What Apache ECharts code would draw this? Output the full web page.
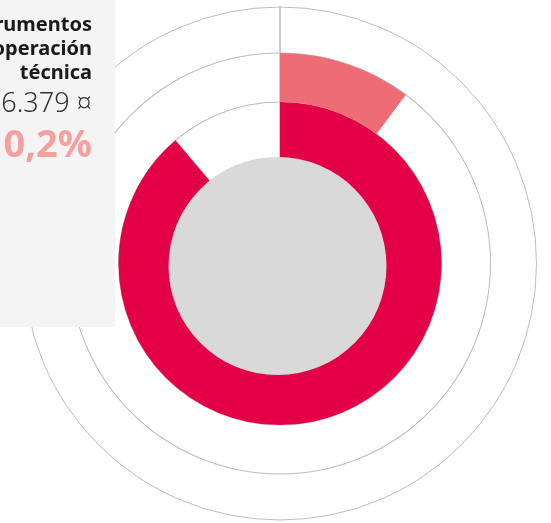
<!DOCTYPE html>
<html>
<head>
<meta charset="utf-8">
<style>
  html, body { margin: 0; padding: 0; background: #ffffff; }
  #chart { width: 551px; height: 523px; }
</style>
<script src="https://cdn.jsdelivr.net/npm/echarts@6/dist/echarts.min.js"></script>
</head>
<body>
<div id="chart"></div>
<script>
// datos
const categoria = ['Instrumentos', 'de cooperación', 'técnica'];
const importe = '6.379 ¤';
const porcentajeTexto = '10,2%';
const valorTotal = 88.8;   // anillo rojo (% de la vuelta)
const valorCategoria = 10.2; // anillo rosa

const centro = [280, 263.5];
const centroGris = [277.5, 266];
const rojo = '#e40046';
const rosa = '#ee6d74';
const gris = '#bdbdbd';

function initChart() {
    const myChart = echarts.init(document.getElementById('chart'));

    // anillo fino de guía
    function aro(r) {
        return {
            type: 'pie',
            silent: true,
            z: 1,
            center: centro,
            radius: [r - 0.5, r + 0.5],
            label: { show: false },
            labelLine: { show: false },
            itemStyle: { color: gris, borderWidth: 0 },
            data: [{ value: 1 }]
        };
    }

    const option = {
        animation: false,
        polar: { center: centro, radius: 256.5 },
        angleAxis: {
            type: 'value', min: 0, max: 100, startAngle: 90,
            axisLine: { show: true, lineStyle: { color: gris, width: 1 } },
            axisTick: { show: false }, axisLabel: { show: false },
            splitLine: { show: false }
        },
        radiusAxis: {
            type: 'value', min: 0, max: 1,
            axisLine: { show: true, lineStyle: { color: gris, width: 1.5 } },
            axisTick: { show: false }, axisLabel: { show: false },
            splitLine: { show: false }
        },
        series: [
            aro(161.5),
            aro(210.5),
            { // anillo rojo
                type: 'pie', silent: true, z: 3,
                center: centro, radius: [90, 161.5],
                startAngle: 90,
                label: { show: false }, labelLine: { show: false },
                itemStyle: { borderWidth: 0 },
                data: [
                    { value: valorTotal, itemStyle: { color: rojo } },
                    { value: 100 - valorTotal, itemStyle: { color: 'rgba(0,0,0,0)' } }
                ]
            },
            { // anillo rosa
                type: 'pie', silent: true, z: 3,
                center: centro, radius: [161.5, 210.5],
                startAngle: 90,
                label: { show: false }, labelLine: { show: false },
                itemStyle: { borderWidth: 0 },
                data: [
                    { value: valorCategoria, itemStyle: { color: rosa } },
                    { value: 100 - valorCategoria, itemStyle: { color: 'rgba(0,0,0,0)' } }
                ]
            },
            { // círculo central
                type: 'pie', silent: true, z: 4,
                center: centroGris, radius: [0, 109],
                label: { show: false }, labelLine: { show: false },
                itemStyle: { color: '#d9d9d9', borderWidth: 0 },
                data: [{ value: 1 }]
            }
        ],
        graphic: [
            { type: 'rect', z: 10, shape: { x: 0, y: 0, width: 115, height: 327 },
              style: { fill: '#f4f4f4' } },
            ...categoria.map((t, i) => ({
                type: 'text', z: 11, x: 92, y: 25 + i * 24,
                style: { text: t, textAlign: 'right', textVerticalAlign: 'middle',
                    fill: '#1a1a1a', font: 'bold 20px "Noto Sans"' }
            })),
            { type: 'text', z: 11, x: 92, y: 104,
              style: { text: importe, textAlign: 'right', textVerticalAlign: 'middle',
                fill: '#333333', font: '300 27px "Noto Sans"' } },
            { type: 'text', z: 11, x: 92, y: 146,
              style: { text: porcentajeTexto, textAlign: 'right', textVerticalAlign: 'middle',
                fill: '#f4a09e', font: 'bold 38px "Noto Sans"' } }
        ]
    };

    myChart.setOption(option);
    window.addEventListener('resize', () => myChart.resize());
}

window.onload = initChart;
</script>
</body>
</html>
